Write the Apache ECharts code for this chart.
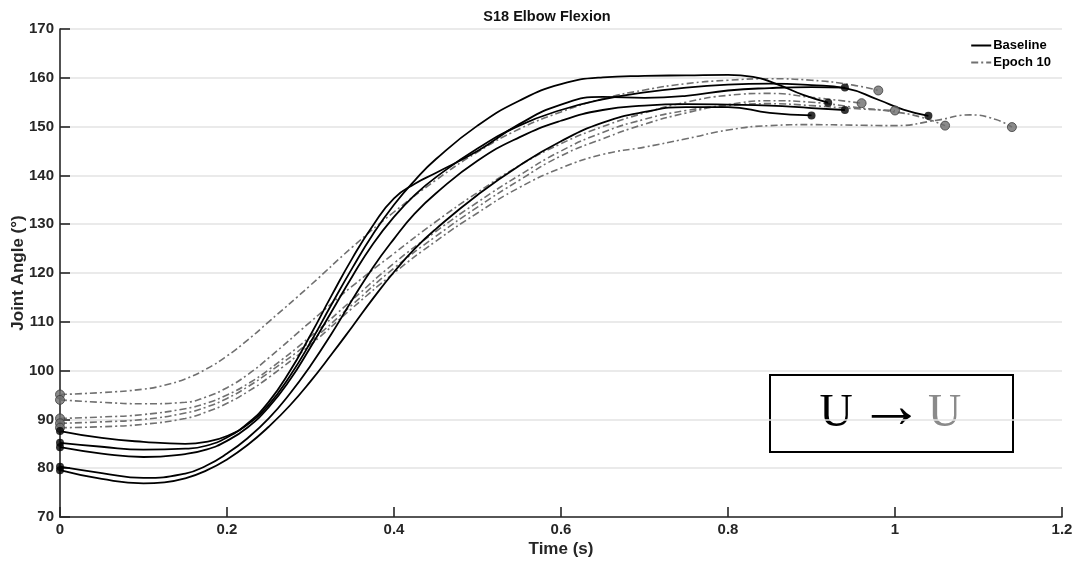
<!DOCTYPE html>
<html><head><meta charset="utf-8">
<script src="https://cdn.jsdelivr.net/npm/echarts@6/dist/echarts.min.js"></script>
<style>html,body{margin:0;padding:0;background:#fff}#c{width:1078px;height:562px}</style>
</head><body><div id="c"></div>
<script>
// ---- data: [time (s), joint angle (deg)] ----
const xTicks = [0, 0.2, 0.4, 0.6, 0.8, 1, 1.2];
const yTicks = [70, 80, 90, 100, 110, 120, 130, 140, 150, 160, 170];

const baseline1 = [[0,87.6],[0.05,86.2],[0.1,85.4],[0.15,85.0],[0.175,85.4],[0.2,86.6],[0.225,89.0],[0.25,93.0],[0.275,98.8],[0.3,105.8],[0.325,113.5],[0.35,121.0],[0.375,128.0],[0.4,134.0],[0.425,139.0],[0.45,143.3],[0.5,150.2],[0.55,155.3],[0.6,158.7],[0.65,160.1],[0.7,160.4],[0.75,160.5],[0.8,160.6],[0.83,160.2],[0.86,158.6],[0.89,156.5],[0.92,154.9]];
const baseline2 = [[0,85.2],[0.05,84.4],[0.1,83.8],[0.15,84.0],[0.175,84.6],[0.2,86.3],[0.225,89.2],[0.25,93.6],[0.275,99.8],[0.3,107.3],[0.325,115.3],[0.35,123.0],[0.375,129.8],[0.4,135.3],[0.425,138.3],[0.45,140.5],[0.5,145.0],[0.55,150.5],[0.6,154.5],[0.65,156.1],[0.7,155.9],[0.75,156.3],[0.8,157.4],[0.85,157.9],[0.9,158.1],[0.94,158.0]];
const baseline3 = [[0,84.3],[0.05,83.0],[0.1,82.3],[0.15,82.9],[0.175,83.8],[0.2,85.6],[0.225,88.4],[0.25,92.5],[0.275,98.0],[0.3,104.8],[0.325,112.0],[0.35,119.3],[0.375,126.0],[0.4,131.5],[0.425,136.0],[0.45,139.6],[0.5,145.5],[0.55,150.2],[0.6,153.4],[0.65,155.6],[0.7,157.0],[0.75,158.0],[0.8,158.6],[0.85,158.8],[0.9,158.5],[0.94,157.9],[0.98,155.5],[1.01,153.5],[1.04,152.2]];
const baseline4 = [[0,80.3],[0.05,79.0],[0.1,78.0],[0.15,78.9],[0.175,80.5],[0.2,83.0],[0.225,86.2],[0.25,90.2],[0.275,95.2],[0.3,101.0],[0.325,107.5],[0.35,114.5],[0.375,121.2],[0.4,127.0],[0.425,132.2],[0.45,136.3],[0.5,143.0],[0.55,147.8],[0.6,151.2],[0.65,153.4],[0.7,154.3],[0.75,154.6],[0.8,154.5],[0.85,154.3],[0.9,153.8],[0.94,153.4]];
const baseline5 = [[0,79.6],[0.05,77.8],[0.1,76.9],[0.125,77.1],[0.15,77.9],[0.175,79.5],[0.2,81.8],[0.225,84.8],[0.25,88.5],[0.275,92.8],[0.3,97.8],[0.325,103.3],[0.35,109.0],[0.375,114.8],[0.4,120.2],[0.425,125.0],[0.45,129.0],[0.5,136.0],[0.55,142.0],[0.6,147.0],[0.65,150.8],[0.7,153.0],[0.75,154.0],[0.8,154.0],[0.85,152.8],[0.9,152.3]];

const epoch1 = [[0,95.1],[0.05,95.5],[0.1,96.2],[0.125,97.0],[0.15,98.3],[0.175,100.3],[0.2,103.0],[0.225,106.3],[0.25,110.0],[0.3,117.5],[0.35,125.3],[0.4,132.5],[0.45,139.0],[0.5,144.8],[0.55,149.5],[0.6,153.0],[0.65,155.7],[0.7,157.5],[0.75,158.8],[0.8,159.5],[0.85,159.8],[0.9,159.5],[0.95,158.5],[0.98,157.4]];
const epoch2 = [[0,94.0],[0.05,93.5],[0.1,93.2],[0.15,93.5],[0.175,94.6],[0.2,96.5],[0.225,99.2],[0.25,102.6],[0.3,110.0],[0.35,117.3],[0.4,124.0],[0.45,130.5],[0.5,136.5],[0.55,142.0],[0.6,146.5],[0.65,150.0],[0.7,152.8],[0.75,155.0],[0.8,156.4],[0.85,156.8],[0.9,156.0],[0.96,154.8]];
const epoch3 = [[0,90.2],[0.05,90.5],[0.1,91.0],[0.15,92.2],[0.175,93.3],[0.2,95.0],[0.225,97.3],[0.25,100.2],[0.3,107.0],[0.35,114.5],[0.4,122.0],[0.45,128.5],[0.5,134.5],[0.55,140.0],[0.6,145.0],[0.65,148.8],[0.7,151.5],[0.75,153.3],[0.8,154.3],[0.85,154.7],[0.9,154.3],[0.95,153.7],[1.0,153.3]];
const epoch4 = [[0,89.2],[0.05,89.5],[0.1,90.0],[0.15,91.3],[0.175,92.5],[0.2,94.3],[0.225,96.7],[0.25,99.6],[0.3,106.0],[0.35,113.5],[0.4,121.0],[0.45,127.5],[0.5,133.5],[0.55,139.0],[0.6,144.0],[0.65,147.5],[0.7,150.5],[0.75,152.8],[0.8,154.5],[0.85,155.3],[0.9,155.0],[0.95,154.0],[1.0,153.0],[1.03,152.0],[1.06,150.2]];
const epoch5 = [[0,88.3],[0.05,88.5],[0.1,89.0],[0.15,90.2],[0.175,91.5],[0.2,93.3],[0.225,95.7],[0.25,98.6],[0.3,105.3],[0.35,112.8],[0.4,120.0],[0.45,126.5],[0.5,132.3],[0.55,137.5],[0.6,141.5],[0.65,144.3],[0.7,145.8],[0.75,147.5],[0.8,149.3],[0.85,150.2],[0.9,150.4],[0.95,150.3],[1.0,150.2],[1.05,151.3],[1.09,152.4],[1.12,151.5],[1.14,149.9]];

const baselineRuns = [baseline1, baseline2, baseline3, baseline4, baseline5];
const epochRuns = [epoch1, epoch2, epoch3, epoch4, epoch5];

const FONT = 'Liberation Sans, Arial, sans-serif';
const SERIF = 'Liberation Serif, DejaVu Serif, serif';
const series = [];
epochRuns.forEach(d => series.push({
  name: 'Epoch 10', type: 'line', data: d, smooth: 0.5, symbol: 'none', z: 2,
  lineStyle: { color: '#707070', width: 1.6, type: [7, 3, 2, 3] },
  itemStyle: { color: '#707070' }
}));
baselineRuns.forEach(d => series.push({
  name: 'Baseline', type: 'line', data: d, smooth: 0.5, symbol: 'none', z: 3,
  lineStyle: { color: '#000', width: 1.8, type: 'solid' },
  itemStyle: { color: '#000' }
}));
const ends = arr => arr.flatMap(d => [d[0], d[d.length - 1]]);
series.push({
  type: 'scatter', data: ends(epochRuns), symbolSize: 9, z: 4, silent: true,
  itemStyle: { color: '#6e6e6e', borderColor: '#3c3c3c', borderWidth: 1 }
});
series.push({
  type: 'scatter', data: ends(baselineRuns), symbolSize: 8, z: 5, silent: true,
  itemStyle: { color: '#000' }
});

const chart = echarts.init(document.getElementById('c'), null, { renderer: 'canvas' });
chart.setOption({
  animation: false,
  backgroundColor: '#fff',
  title: {
    text: 'S18 Elbow Flexion', left: 542, top: 4, textAlign: 'center',
    textStyle: { fontFamily: FONT, fontWeight: 'bold', fontSize: 14.5, color: '#111' }
  },
  legend: {
    data: ['Baseline', 'Epoch 10'], orient: 'vertical', right: 22, top: 34,
    itemWidth: 20, itemHeight: 10, itemGap: 4,
    itemStyle: { opacity: 0 },
    textStyle: { fontFamily: FONT, fontWeight: 'bold', fontSize: 13, color: '#000', padding: [0, 0, 0, -3] }
  },
  grid: { left: 60, right: 16, top: 29, bottom: 45, containLabel: false, outerBoundsMode: 'none' },
  xAxis: {
    type: 'value', min: xTicks[0], max: xTicks[xTicks.length - 1], interval: 0.2,
    name: 'Time (s)', nameLocation: 'middle', nameGap: 24, nameMoveOverlap: false,
    nameTextStyle: { fontFamily: FONT, fontWeight: 'bold', fontSize: 17, color: '#262626' },
    axisLine: { lineStyle: { color: '#262626', width: 1.6 } },
    axisTick: { inside: true, length: 10, lineStyle: { color: '#262626', width: 1.6 } },
    axisLabel: { fontFamily: FONT, fontWeight: 'bold', fontSize: 15, color: '#262626', margin: 5,
      formatter: v => String(+v.toFixed(1)) },
    splitLine: { show: false }
  },
  yAxis: {
    type: 'value', min: yTicks[0], max: yTicks[yTicks.length - 1], interval: 10,
    name: 'Joint Angle (°)', nameLocation: 'middle', nameGap: 33, nameRotate: 90, nameMoveOverlap: false,
    nameTextStyle: { fontFamily: FONT, fontWeight: 'bold', fontSize: 17, color: '#262626' },
    axisLine: { show: true, lineStyle: { color: '#262626', width: 1.6 } },
    axisTick: { show: true, inside: true, length: 10, lineStyle: { color: '#262626', width: 1.6 } },
    axisLabel: { fontFamily: FONT, fontWeight: 'bold', fontSize: 15, color: '#262626', margin: 6 },
    splitLine: { show: true, lineStyle: { color: '#e3e3e3', width: 1.5 } }
  },
  graphic: [{
    type: 'group', left: 769, top: 374, z: 100,
    children: [
      { type: 'rect', shape: { x: 0, y: 0, width: 243, height: 77 },
        style: { fill: '#fff', stroke: '#000', lineWidth: 2 } },
      { type: 'text', x: 66, y: 39,
        style: { text: 'U', align: 'center', verticalAlign: 'middle', font: '46px ' + SERIF, fill: '#000' } },
      { type: 'text', x: 121.5, y: 35,
        style: { text: '→', align: 'center', verticalAlign: 'middle', font: '66px ' + SERIF, fill: '#000' } },
      { type: 'text', x: 174.5, y: 39,
        style: { text: 'U', align: 'center', verticalAlign: 'middle', font: '46px ' + SERIF, fill: '#8a8a8a' } }
    ]
  }],
  series: series
});
</script></body></html>
